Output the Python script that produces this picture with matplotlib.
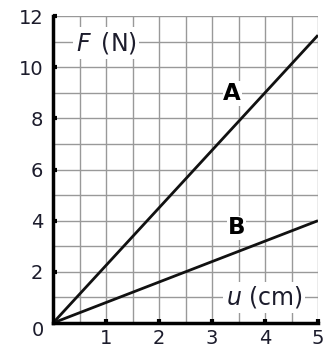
import matplotlib.pyplot as plt
import matplotlib.ticker as tic

# distance u (cm) and force F (N) for two springs
u = [0, 5]
F_A = [0, 11.25]
F_B = [0, 4.0]

x_ticks = [1, 2, 3, 4, 5]
y_ticks = [2, 4, 6, 8, 10, 12]

plt.rcParams['font.family'] = ['DejaVu Sans']
txt_color = '#1c1c2c'
fs = 14

fig = plt.figure(figsize=(3.31, 3.48), dpi=100)
ax = fig.add_axes([53 / 331, 1 - 323 / 348, 265 / 331, 307 / 348])

ax.plot(u, F_A, color='#111111', linewidth=2, zorder=4, solid_capstyle='butt')
ax.plot(u, F_B, color='#111111', linewidth=2, zorder=4, solid_capstyle='butt')

ax.set_xlim(0, 5)
ax.set_ylim(0, 12)
ax.xaxis.set_major_locator(tic.FixedLocator(x_ticks))
ax.yaxis.set_major_locator(tic.FixedLocator(y_ticks))
ax.xaxis.set_minor_locator(tic.MultipleLocator(0.5))
ax.yaxis.set_minor_locator(tic.MultipleLocator(1))
ax.grid(which='both', color='#999999', linewidth=1.0, zorder=1)
ax.set_axisbelow(True)

ax.tick_params(which='major', direction='in', length=3, width=3, color='black',
               labelsize=fs, labelcolor=txt_color)
ax.tick_params(axis='x', which='major', pad=4)
ax.tick_params(axis='y', which='major', pad=7)
ax.tick_params(which='minor', length=0)

for side in ('top', 'right'):
    ax.spines[side].set_visible(False)
for side in ('left', 'bottom'):
    ax.spines[side].set_linewidth(2.5)
    ax.spines[side].set_zorder(5)

# origin label sits below and left of the corner
ax.text(-0.29, -0.31, '0', fontsize=fs, color=txt_color, ha='center', va='center',
        clip_on=False)

box = dict(facecolor='white', edgecolor='none', pad=2)
ax.text(1.0, 10.94, r'$\mathit{F}\,$ (N)', fontsize=17, ha='center', va='center',
        color=txt_color, bbox=box, zorder=3, math_fontfamily='dejavusans')
ax.text(3.98, 1.0, r'$\mathit{u}$ (cm)', fontsize=17, ha='center', va='center',
        color=txt_color, bbox=box, zorder=3, math_fontfamily='dejavusans')
ax.text(3.38, 8.97, 'A', fontsize=16.5, fontweight='bold', ha='center', va='center',
        bbox=dict(facecolor='white', edgecolor='none', pad=0.5), zorder=3)
ax.text(3.47, 3.72, 'B', fontsize=16.5, fontweight='bold', ha='center', va='center',
        bbox=dict(facecolor='white', edgecolor='none', pad=0.5), zorder=3)

fig.savefig('out.png', dpi=100)
